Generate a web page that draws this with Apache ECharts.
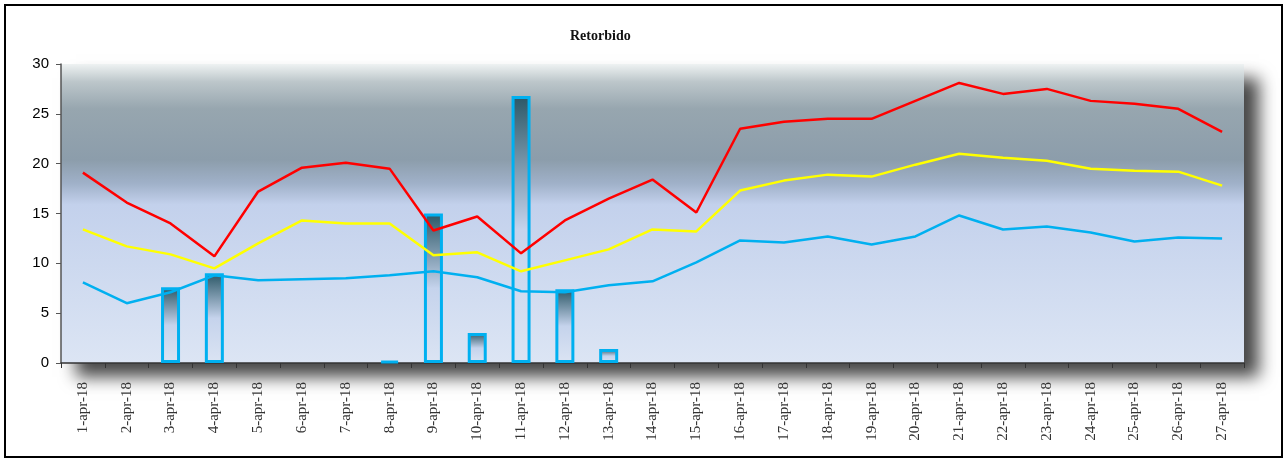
<!DOCTYPE html>
<html>
<head>
<meta charset="utf-8">
<script src="https://cdn.jsdelivr.net/npm/echarts@6/dist/echarts.min.js"></script>
<style>html,body{margin:0;padding:0;background:#fff}#c{width:1286px;height:459px}</style>
</head>
<body>
<div id="c"></div>
<script>
const categories = ['1-apr-18','2-apr-18','3-apr-18','4-apr-18','5-apr-18','6-apr-18','7-apr-18','8-apr-18','9-apr-18','10-apr-18','11-apr-18','12-apr-18','13-apr-18','14-apr-18','15-apr-18','16-apr-18','17-apr-18','18-apr-18','19-apr-18','20-apr-18','21-apr-18','22-apr-18','23-apr-18','24-apr-18','25-apr-18','26-apr-18','27-apr-18'];
const barValues = [null,null,7.6,9.0,null,null,null,0.2,15.0,3.0,26.8,7.4,1.4,null,null,null,null,null,null,null,null,null,null,null,null,null,null];
const redValues = [19.1,16.1,14.0,10.7,17.2,19.6,20.1,19.5,13.3,14.7,11.0,14.3,16.5,18.4,15.1,23.5,24.2,24.5,24.5,26.3,28.1,27.0,27.5,26.3,26.0,25.5,23.2];
const yellowValues = [13.4,11.7,10.9,9.5,12.0,14.3,14.0,14.0,10.8,11.1,9.2,10.3,11.4,13.4,13.2,17.3,18.3,18.9,18.7,19.9,21.0,20.6,20.3,19.5,19.3,19.2,17.8];
const blueValues = [8.1,6.0,7.1,8.8,8.3,8.4,8.5,8.8,9.2,8.6,7.2,7.1,7.8,8.2,10.1,12.3,12.1,12.7,11.9,12.7,14.8,13.4,13.7,13.1,12.2,12.6,12.5];
const yTicks = {min:0, max:30, interval:5};

const chart = echarts.init(document.getElementById('c'), null, {renderer:'canvas'});
chart.setOption({
  animation:false,
  graphic:[{type:'rect', shape:{x:5,y:5,width:1277,height:452}, style:{fill:'none', stroke:'#000', lineWidth:2}, z:100}],
  title:{text:'Retorbido', left:565, top:24, textStyle:{fontFamily:'Liberation Serif', fontWeight:'bold', fontSize:14, color:'#111'}},
  grid:{left:61, right:42, top:64, bottom:96, show:true, borderWidth:0,
    backgroundColor:new echarts.graphic.LinearGradient(0,0,0,1,[
      {offset:0,color:'#eef2f2'},{offset:0.06,color:'#bcc6ca'},{offset:0.15,color:'#97a6af'},
      {offset:0.32,color:'#8c9dab'},{offset:0.40,color:'#a0b1c9'},{offset:0.47,color:'#c3d1ec'},{offset:1,color:'#dce5f4'}]),
    shadowColor:'rgba(0,0,0,0.72)', shadowBlur:16, shadowOffsetX:15, shadowOffsetY:14},
  xAxis:{type:'category', data:categories, boundaryGap:true,
    axisLine:{lineStyle:{color:'#333', width:1.5}},
    axisTick:{show:true, length:5, lineStyle:{color:'#333'}},
    axisLabel:{rotate:90, interval:0, margin:19, fontFamily:'Liberation Serif', fontSize:15, color:'#333'}},
  yAxis:{type:'value', min:yTicks.min, max:yTicks.max, interval:yTicks.interval,
    axisLine:{show:true, lineStyle:{color:'#555', width:1.5}},
    axisTick:{show:true, length:5, lineStyle:{color:'#555'}},
    splitLine:{show:false},
    axisLabel:{fontFamily:'Liberation Sans', fontSize:15, color:'#000', margin:12}},
  series:[
    {type:'bar', data:barValues, barWidth:19, z:2,
      itemStyle:{borderColor:'#00b0f0', borderWidth:3,
        color:new echarts.graphic.LinearGradient(0,0,0,1,[{offset:0,color:'#2b5766'},{offset:0.5,color:'#c5d3ec'},{offset:1,color:'#dbe4f3'}])}},
    {type:'line', data:redValues, showSymbol:false, z:3, lineStyle:{color:'#ff0000', width:2.5}},
    {type:'line', data:yellowValues, showSymbol:false, z:3, lineStyle:{color:'#ffff00', width:2.5}},
    {type:'line', data:blueValues, showSymbol:false, z:3, lineStyle:{color:'#00b0f0', width:2.5}}
  ]
});
</script>
</body>
</html>
